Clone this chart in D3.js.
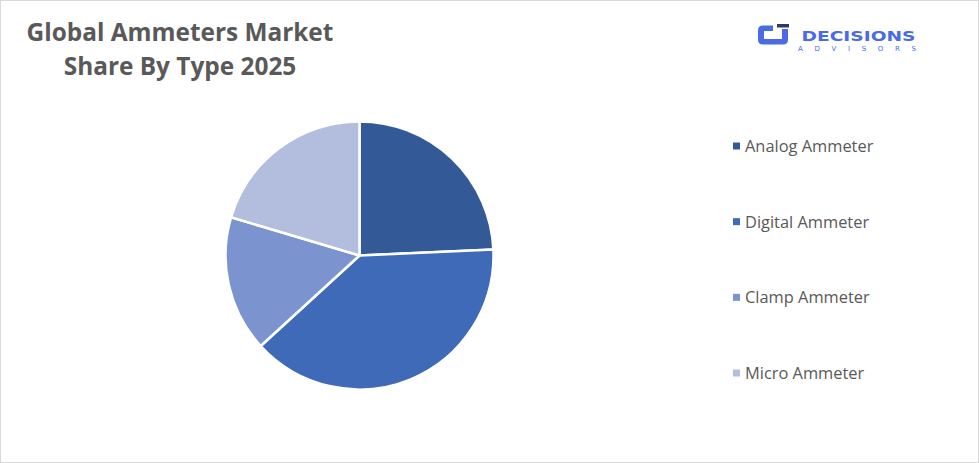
<!DOCTYPE html>
<html><head><meta charset="utf-8">
<script src="https://cdn.jsdelivr.net/npm/d3@7"></script>
<style>
html,body{margin:0;padding:0;background:#fff;}
svg{display:block;}
</style></head>
<body>
<script>
const categories = ["Analog Ammeter", "Digital Ammeter", "Clamp Ammeter", "Micro Ammeter"];
const shares = [24.3, 38.9, 16.4, 20.4];
const colors = ["#335A97", "#3F6AB7", "#7B93CF", "#B3BEDE"];
const titleLines = ["Global Ammeters Market", "Share By Type 2025"];

const W = 979, H = 463;
const svg = d3.select("body").append("svg").attr("width", W).attr("height", H);

svg.append("rect").attr("x", 0.5).attr("y", 0.5).attr("width", W - 1).attr("height", H - 1)
  .attr("fill", "#fff").attr("stroke", "#d9d9d9");

// Title
svg.append("g").selectAll("text").data(titleLines).join("text")
  .attr("x", 180).attr("y", (d, i) => 41 + i * 34)
  .attr("text-anchor", "middle")
  .attr("font-family", "Open Sans, sans-serif").attr("font-weight", 700)
  .attr("font-size", 24.4).attr("fill", "#595959")
  .text(d => d);

// Pie
const cx = 359.5, cy = 255.5, r = 134;
const pie = d3.pie().sort(null).value(d => d)(shares);
const arc = d3.arc().innerRadius(0).outerRadius(r);
svg.append("g").attr("transform", `translate(${cx},${cy})`)
  .selectAll("path").data(pie).join("path")
  .attr("d", arc).attr("fill", (d, i) => colors[i])
  .attr("stroke", "#fff").attr("stroke-width", 2.5).attr("stroke-linejoin", "round");

// Legend
const color = d3.scaleOrdinal().domain(categories).range(colors);
const ly = d3.scalePoint().domain(categories).range([146, 373]);
const lg = svg.append("g").selectAll("g").data(categories).join("g")
  .attr("transform", d => `translate(733,${ly(d)})`);
lg.append("rect").attr("x", 0).attr("y", -3.5).attr("width", 7).attr("height", 7)
  .attr("fill", d => color(d));
lg.append("text").attr("x", 12).attr("y", 6)
  .attr("font-family", "Open Sans, sans-serif").attr("font-size", 16.4).attr("fill", "#595959")
  .text(d => d);

// Logo
const logo = svg.append("g").attr("transform", "translate(758,24)");
logo.append("path")
  .attr("d", "M15,1.5 L5,1.5 Q0,1.5 0,6.5 L0,15.5 Q0,20.5 5,20.5 L25,20.5 Q30,20.5 30,15.5 L30,5 L24,5 L24,15 L6,15 L6,7 L15,7 Z")
  .attr("fill", "#4A6BE3");
logo.append("rect").attr("x", 19).attr("y", 0).attr("width", 12).attr("height", 3.5).attr("fill", "#2E3B5E");
svg.append("text").attr("x", 801.5).attr("y", 40.7)
  .attr("font-family", "DejaVu Sans, sans-serif").attr("font-weight", 700).attr("font-size", 14.5)
  .attr("fill", "#4A6BE3").attr("textLength", 114).attr("lengthAdjust", "spacingAndGlyphs").text("DECISIONS");
svg.append("text").attr("x", 798).attr("y", 51.3)
  .attr("font-family", "DejaVu Sans, sans-serif").attr("font-size", 7)
  .attr("fill", "#4A6BE3").attr("textLength", 118).text("ADVISORS");
</script>
</body></html>
